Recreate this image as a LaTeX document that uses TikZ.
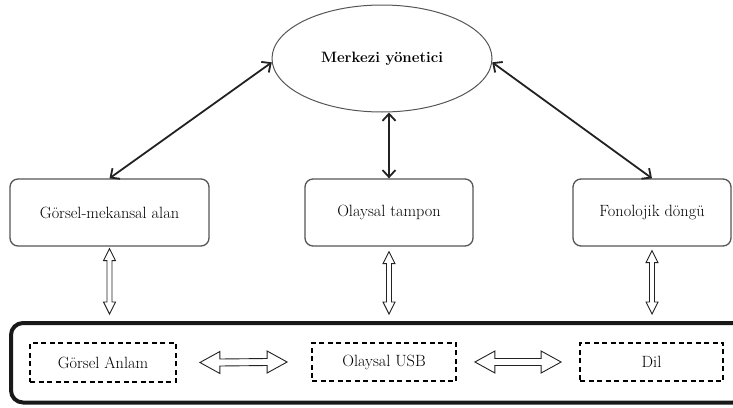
\documentclass[tikz,border=0pt]{standalone}
\usetikzlibrary{shapes.geometric,arrows.meta,calc}
\definecolor{boxline}{HTML}{555555}
\definecolor{arrline}{HTML}{222222}
\tikzset{
  txt/.style={font=\fontsize{16.3}{19}\selectfont, inner sep=0pt},
  modbox/.style={txt, draw=boxline, line width=1.3pt, rounded corners=8pt, fill=white, minimum height=67pt},
  dbox/.style={txt, draw=black, line width=1.8pt, dash pattern=on 5pt off 3.5pt, minimum height=38.5pt},
  blk/.style={draw=arrline, line width=1.8pt, {Straight Barb[length=7pt,width=13pt]}-{Straight Barb[length=7pt,width=13pt]}},
  hollow/.style={draw=arrline, line width=0.9pt, fill=white, line join=miter},
}
\newcommand\vdarrow[2]{%
  \draw[hollow] (#1) -- ($(#1)+(6,12)$) -- ($(#1)+(2.5,12)$) -- ($(#2)+(2.5,-12)$) -- ($(#2)+(6,-12)$) -- (#2)
   -- ($(#2)+(-6,-12)$) -- ($(#2)+(-2.5,-12)$) -- ($(#1)+(-2.5,12)$) -- ($(#1)+(-6,12)$) -- cycle;}
\newcommand\hdarrow[2]{%
  \draw[hollow] (#1) -- ($(#1)+(20,-11)$) -- ($(#1)+(20,-3.5)$) -- ($(#2)+(-20,-3.5)$) -- ($(#2)+(-20,-11)$) -- (#2)
   -- ($(#2)+(-20,11)$) -- ($(#2)+(-20,3.5)$) -- ($(#1)+(20,3.5)$) -- ($(#1)+(20,11)$) -- cycle;}
\begin{document}
\begin{tikzpicture}[x=1pt,y=-1pt]
\useasboundingbox (0,0) rectangle (733,407);
\clip (0,0) rectangle (733,407);
% central executive
\node[ellipse, draw=boxline, line width=1pt, minimum width=220pt, minimum height=107pt, inner sep=0pt,
      font=\fontsize{15}{18}\selectfont\bfseries] (me) at (382,58.5) {Merkezi yönetici};
% subsystems
\node[modbox, minimum width=199pt] (gm) at (109.5,212.5) {Görsel-mekansal alan};
\node[modbox, minimum width=168pt] (ot) at (389,212.5) {Olaysal tampon};
\node[modbox, minimum width=158pt] (fd) at (652,212.5) {Fonolojik döngü};
% long-term memory frame
\node[draw=black!90, line width=4pt, rounded corners=12pt, minimum width=734pt, minimum height=79.5pt, inner sep=0pt] (wm) at (378,362.75) {};
\node[dbox, minimum width=146pt] (ga) at (103,362.5) {Görsel Anlam};
\node[dbox, minimum width=144pt] (ou) at (384,362) {Olaysal USB};
\node[dbox, minimum width=143pt] (dl) at (651.5,362) {Dil};
% black arrows
\draw[blk] (gm.north) -- (me.182);
\draw[blk] (ot.north) -- (ot.north |- me.south);
\draw[blk] (fd.north) -- (me.-2);
% hollow vertical arrows
\coordinate (v1a) at ([yshift=-2pt]gm.south);
\coordinate (v1b) at ([yshift=7pt]gm.south |- wm.north);
\coordinate (v2a) at ([yshift=-5pt]ot.south);
\coordinate (v2b) at ([yshift=7pt]ot.south |- wm.north);
\coordinate (v3a) at ([yshift=-4pt]fd.south);
\coordinate (v3b) at ([yshift=7pt]fd.south |- wm.north);
\vdarrow{v1a}{v1b}
\vdarrow{v2a}{v2b}
\vdarrow{v3a}{v3b}
% hollow horizontal arrows
\coordinate (h1a) at ([xshift=23pt]ga.east);
\coordinate (h1b) at ([xshift=-24pt]ou.west);
\coordinate (h2a) at ([xshift=18pt]ou.east);
\coordinate (h2b) at ([xshift=-18pt]dl.west);
\hdarrow{h1a}{h1b}
\hdarrow{h2a}{h2b}
\end{tikzpicture}
\end{document}
